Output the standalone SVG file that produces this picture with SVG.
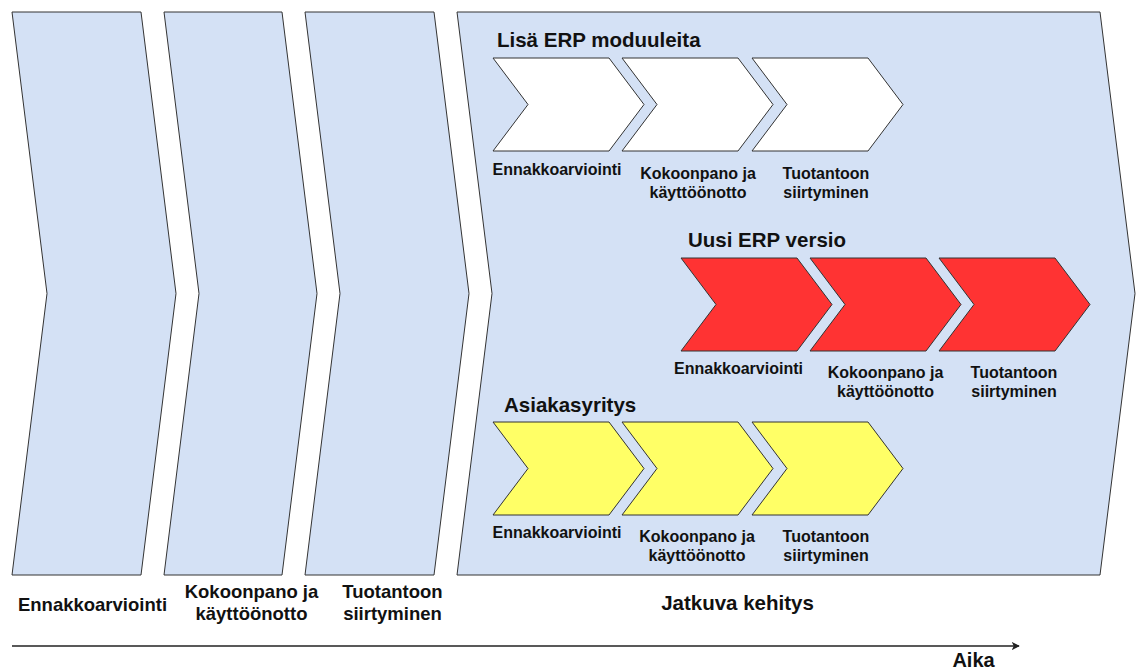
<svg xmlns="http://www.w3.org/2000/svg" width="1136" height="670" viewBox="0 0 1136 670">
  <defs>
    <style>
      .phase { fill: #D4E1F5; stroke: #333333; stroke-width: 1; }
      .white { fill: #FFFFFF; stroke: #333333; stroke-width: 1; }
      .red { fill: #FF3333; stroke: #333333; stroke-width: 1; }
      .yellow { fill: #FFFF66; stroke: #333333; stroke-width: 1; }
      text { font-family: "Liberation Sans", Arial, Helvetica, sans-serif; font-weight: bold; fill: #111111; }
      .big { font-size: 18.5px; text-anchor: middle; }
      .small { font-size: 16px; text-anchor: middle; }
      .title { font-size: 20.5px; }
      .axis { stroke: #222222; stroke-width: 1.5; fill: none; }
    </style>
    <marker id="arrow" viewBox="0 0 10 10" refX="9" refY="5" markerWidth="8" markerHeight="8" markerUnits="userSpaceOnUse" orient="auto">
      <path d="M0,0 L10,5 L0,10 L2.5,5 Z" fill="#222222"/>
    </marker>
    <polygon id="smallChevron" points="0,0 116,0 151,46.5 116,93 0,93 35,46.5"/>
  </defs>

  <rect width="1136" height="670" fill="#FFFFFF"/>

  <!-- Phase chevrons -->
  <g id="phase-ennakkoarviointi">
    <polygon class="phase" points="12,12 141,12 176,293.5 141,575 12,575 47,293.5"/>
    <text class="big" x="92.5" y="611">Ennakkoarviointi</text>
  </g>
  <g id="phase-kokoonpano">
    <polygon class="phase" points="164,12 282,12 317,293.5 282,575 164,575 199,293.5"/>
    <text class="big" x="251.5" y="598">Kokoonpano ja</text>
    <text class="big" x="251.5" y="620">käyttöönotto</text>
  </g>
  <g id="phase-tuotantoon">
    <polygon class="phase" points="305,12 434,12 469,293.5 434,575 305,575 340,293.5"/>
    <text class="big" x="392.5" y="598">Tuotantoon</text>
    <text class="big" x="392.5" y="620">siirtyminen</text>
  </g>
  <g id="phase-jatkuva">
    <polygon class="phase" points="457,12 1100,12 1135,293.5 1100,575 457,575 492,293.5"/>
    <text x="737.5" y="610" style="font-size:20.5px;text-anchor:middle">Jatkuva kehitys</text>
  </g>

  <!-- Lisä ERP moduuleita -->
  <g id="lisa-erp">
    <text class="title" x="497" y="47">Lisä ERP moduuleita</text>
    <g id="lisa-1">
      <use href="#smallChevron" class="white" x="493" y="58"/>
      <text class="small" x="557" y="175">Ennakkoarviointi</text>
    </g>
    <g id="lisa-2">
      <use href="#smallChevron" class="white" x="622" y="58"/>
      <text class="small" x="698" y="179">Kokoonpano ja</text>
      <text class="small" x="698" y="198">käyttöönotto</text>
    </g>
    <g id="lisa-3">
      <use href="#smallChevron" class="white" x="752" y="58"/>
      <text class="small" x="826" y="179">Tuotantoon</text>
      <text class="small" x="826" y="198">siirtyminen</text>
    </g>
  </g>

  <!-- Uusi ERP versio -->
  <g id="uusi-erp">
    <text class="title" x="688" y="247">Uusi ERP versio</text>
    <g id="uusi-1">
      <use href="#smallChevron" class="red" x="681" y="258"/>
      <text class="small" x="738.5" y="374">Ennakkoarviointi</text>
    </g>
    <g id="uusi-2">
      <use href="#smallChevron" class="red" x="810" y="258"/>
      <text class="small" x="885.5" y="378">Kokoonpano ja</text>
      <text class="small" x="885.5" y="397">käyttöönotto</text>
    </g>
    <g id="uusi-3">
      <use href="#smallChevron" class="red" x="939" y="258"/>
      <text class="small" x="1014" y="378">Tuotantoon</text>
      <text class="small" x="1014" y="397">siirtyminen</text>
    </g>
  </g>

  <!-- Asiakasyritys -->
  <g id="asiakasyritys">
    <text class="title" x="504" y="412">Asiakasyritys</text>
    <g id="asiakas-1">
      <use href="#smallChevron" class="yellow" x="493" y="422"/>
      <text class="small" x="557" y="538">Ennakkoarviointi</text>
    </g>
    <g id="asiakas-2">
      <use href="#smallChevron" class="yellow" x="622" y="422"/>
      <text class="small" x="697" y="542">Kokoonpano ja</text>
      <text class="small" x="697" y="561">käyttöönotto</text>
    </g>
    <g id="asiakas-3">
      <use href="#smallChevron" class="yellow" x="752" y="422"/>
      <text class="small" x="826" y="542">Tuotantoon</text>
      <text class="small" x="826" y="561">siirtyminen</text>
    </g>
  </g>

  <!-- Connectors: time axis -->
  <g id="connectors">
    <line class="axis" x1="12" y1="646" x2="1019" y2="646" marker-end="url(#arrow)"/>
  </g>
  <g id="axis-label">
    <text x="973.5" y="667" style="font-size:20px;text-anchor:middle">Aika</text>
  </g>
</svg>
